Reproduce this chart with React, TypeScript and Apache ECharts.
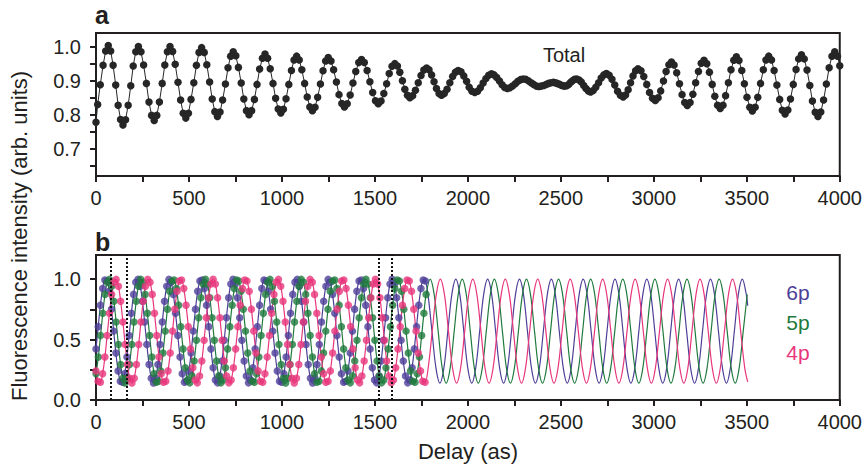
import { useEffect, useRef } from "react";
import * as echarts from "echarts";

// ---------- Panel a: total fluorescence (delay in as, intensity) ----------
const TOTAL_DELAY = [
  0, 9, 23, 38, 52,
  66, 79, 92, 106, 119, 132, 145, 159, 173, 187, 200, 214,
  228, 242, 256, 271, 285, 299, 313, 327, 341, 356, 370, 384,
  398, 412, 426, 441, 455, 469, 483, 497, 511, 526, 540, 554,
  568, 582, 596, 611, 625, 639, 653, 667, 681, 696, 710, 724,
  738, 752, 766, 781, 795, 809, 823, 837, 852, 866, 880, 895,
  909, 923, 937, 952, 966, 980, 994, 1008, 1022, 1037, 1051, 1065,
  1079, 1093, 1107, 1122, 1136, 1150, 1164, 1178, 1192, 1207, 1221, 1235,
  1249, 1264, 1278, 1293, 1307, 1322, 1336, 1351, 1367, 1382, 1397, 1413,
  1428, 1443, 1458, 1473, 1488, 1503, 1518, 1533, 1548, 1563, 1577, 1592,
  1607, 1621, 1634, 1648, 1661, 1675, 1688, 1703, 1718, 1733, 1748, 1763,
  1778, 1791, 1805, 1818, 1831, 1845, 1858, 1873, 1888, 1903, 1918, 1933,
  1948, 1963, 1978, 1993, 2007, 2022, 2037, 2052, 2067, 2082, 2097, 2112,
  2127, 2141, 2155, 2170, 2184, 2198, 2212, 2226, 2240, 2255, 2269, 2283,
  2297, 2311, 2325, 2340, 2354, 2368, 2382, 2395, 2408, 2421, 2434, 2447,
  2460, 2470, 2480, 2490, 2500, 2510, 2520, 2531, 2542, 2553, 2563, 2574,
  2585, 2598, 2610, 2623, 2635, 2648, 2660, 2674, 2688, 2703, 2717, 2731,
  2745, 2760, 2775, 2790, 2805, 2820, 2835, 2848, 2862, 2875, 2888, 2902,
  2915, 2931, 2946, 2962, 2977, 2993, 3008, 3023, 3037, 3052, 3066, 3081,
  3095, 3109, 3123, 3138, 3152, 3166, 3180, 3195, 3210, 3225, 3240, 3255,
  3270, 3285, 3299, 3314, 3328, 3343, 3357, 3372, 3386, 3401, 3415, 3430,
  3444, 3458, 3473, 3487, 3501, 3516, 3530, 3545, 3559, 3574, 3589, 3603,
  3618, 3633, 3647, 3662, 3677, 3691, 3706, 3721, 3735, 3750, 3765, 3779,
  3794, 3809, 3824, 3839, 3853, 3868, 3883, 3898, 3913, 3928, 3943, 3958,
  3973, 3988, 4000,
];
const TOTAL_INTENSITY = [
  0.778, 0.83, 0.888, 0.945, 0.987,
  1.003, 0.987, 0.945, 0.887, 0.828, 0.786, 0.77, 0.785, 0.828, 0.885, 0.943, 0.985,
  1.0, 0.985, 0.946, 0.892, 0.837, 0.798, 0.783, 0.798, 0.837, 0.892, 0.946, 0.985,
  1.0, 0.986, 0.948, 0.895, 0.843, 0.804, 0.79, 0.804, 0.845, 0.894, 0.945, 0.983,
  0.997, 0.983, 0.947, 0.896, 0.846, 0.809, 0.795, 0.808, 0.843, 0.89, 0.938, 0.972,
  0.985, 0.973, 0.939, 0.893, 0.846, 0.812, 0.8, 0.812, 0.845, 0.889, 0.934, 0.966,
  0.978, 0.966, 0.935, 0.892, 0.848, 0.817, 0.805, 0.816, 0.847, 0.889, 0.93, 0.961,
  0.972, 0.961, 0.932, 0.892, 0.852, 0.823, 0.812, 0.822, 0.851, 0.89, 0.929, 0.958,
  0.968, 0.958, 0.932, 0.896, 0.859, 0.833, 0.823, 0.832, 0.858, 0.893, 0.927, 0.953,
  0.962, 0.953, 0.93, 0.897, 0.865, 0.841, 0.832, 0.84, 0.862, 0.891, 0.921, 0.942,
  0.95, 0.943, 0.925, 0.9, 0.875, 0.857, 0.85, 0.856, 0.872, 0.894, 0.915, 0.931,
  0.937, 0.932, 0.917, 0.897, 0.877, 0.862, 0.857, 0.862, 0.875, 0.894, 0.912, 0.925,
  0.93, 0.926, 0.914, 0.898, 0.881, 0.869, 0.865, 0.869, 0.879, 0.893, 0.906, 0.916,
  0.92, 0.917, 0.909, 0.899, 0.888, 0.88, 0.877, 0.879, 0.884, 0.891, 0.898, 0.903,
  0.905, 0.904, 0.9, 0.894, 0.889, 0.884, 0.883, 0.884, 0.886, 0.889, 0.892, 0.894,
  0.895, 0.894, 0.892, 0.89, 0.887, 0.885, 0.884, 0.885, 0.889, 0.895, 0.9, 0.904,
  0.905, 0.902, 0.896, 0.886, 0.877, 0.87, 0.867, 0.871, 0.881, 0.894, 0.908, 0.917,
  0.921, 0.916, 0.904, 0.887, 0.869, 0.857, 0.852, 0.858, 0.873, 0.894, 0.914, 0.929,
  0.935, 0.929, 0.912, 0.889, 0.865, 0.848, 0.842, 0.85, 0.87, 0.899, 0.927, 0.947,
  0.955, 0.946, 0.923, 0.891, 0.859, 0.836, 0.827, 0.836, 0.86, 0.894, 0.927, 0.951,
  0.96, 0.95, 0.925, 0.889, 0.854, 0.828, 0.818, 0.828, 0.856, 0.894, 0.932, 0.96,
  0.97, 0.959, 0.93, 0.891, 0.851, 0.822, 0.811, 0.822, 0.851, 0.892, 0.932, 0.961,
  0.972, 0.961, 0.93, 0.887, 0.845, 0.813, 0.802, 0.814, 0.846, 0.889, 0.933, 0.964,
  0.976, 0.964, 0.931, 0.886, 0.84, 0.807, 0.795, 0.808, 0.843, 0.89, 0.938, 0.972,
  0.985, 0.972, 0.944,
];

// ---------- Panel b: 6p (blue) ----------
const P6_DELAY = [
  0, 11.9, 23.8, 35.7, 47.6, 59.4, 71.3, 83.2, 95.1, 107, 118.9, 130.8, 142.7, 154.6, 166.4, 178.3,
  190.2, 202.1, 214, 225.9, 237.8, 249.7, 261.6, 273.4, 285.3, 297.2, 309.1, 321, 332.9, 344.8, 356.7, 368.6,
  380.4, 392.3, 404.2, 416.1, 428, 439.9, 451.8, 463.7, 475.6, 487.4, 499.3, 511.2, 523.1, 535, 546.9, 558.8,
  570.7, 582.6, 594.5, 606.3, 618.2, 630.1, 642, 653.9, 665.8, 677.7, 689.6, 701.5, 713.3, 725.2, 737.1, 749,
  760.9, 772.8, 784.7, 796.6, 808.5, 820.3, 832.2, 844.1, 856, 867.9, 879.8, 891.7, 903.6, 915.5, 927.3, 939.2,
  951.1, 963, 974.9, 986.8, 998.7, 1010.6, 1022.5, 1034.3, 1046.2, 1058.1, 1070, 1081.9, 1093.8, 1105.7, 1117.6, 1129.5,
  1141.3, 1153.2, 1165.1, 1177, 1188.9, 1200.8, 1212.7, 1224.6, 1236.5, 1248.3, 1260.2, 1272.1, 1284, 1295.9, 1307.8, 1319.7,
  1331.6, 1343.5, 1355.3, 1367.2, 1379.1, 1391, 1402.9, 1414.8, 1426.7, 1438.6, 1450.5, 1462.3, 1474.2, 1486.1, 1498, 1509.9,
  1521.8, 1533.7, 1545.6, 1557.5, 1569.3, 1581.2, 1593.1, 1605, 1616.9, 1628.8, 1640.7, 1652.6, 1664.5, 1676.3, 1688.2, 1700.1,
  1712, 1723.9, 1735.8, 1747.7, 1759.6, 1771.5,
  1785.4, 1806.8, 1828.2, 1849.6, 1871,
  1892.4, 1913.8, 1935.2, 1956.6, 1978, 1999.4, 2020.8, 2042.2,
  2063.6, 2085, 2106.4, 2127.8, 2149.2, 2170.6, 2192, 2213.4,
  2234.8, 2256.2, 2277.6, 2299, 2320.4, 2341.8, 2363.2, 2384.6,
  2406, 2427.4, 2448.8, 2470.2, 2491.6, 2513, 2534.4, 2555.8,
  2577.2, 2598.6, 2620, 2641.4, 2662.8, 2684.2, 2705.6, 2727,
  2748.4, 2769.8, 2791.2, 2812.6, 2834, 2855.4, 2876.8, 2898.2,
  2919.6, 2941, 2962.4, 2983.8, 3005.2, 3026.6, 3048, 3069.4,
  3090.8, 3112.2, 3133.6, 3155, 3176.4, 3197.8, 3219.2, 3240.6,
  3262, 3283.4, 3304.8, 3326.2, 3347.6, 3369, 3390.4, 3411.8,
  3433.2, 3454.6, 3476, 3497.4, 3505,
];
const P6_VALUE = [
  0.423, 0.607, 0.785, 0.922, 0.993, 0.985, 0.899, 0.752, 0.57, 0.388, 0.241, 0.155, 0.147, 0.218, 0.355, 0.533,
  0.717, 0.874, 0.974, 0.998, 0.942, 0.817, 0.645, 0.459, 0.294, 0.18, 0.14, 0.18, 0.294, 0.459, 0.645, 0.817,
  0.942, 0.998, 0.974, 0.874, 0.717, 0.533, 0.355, 0.218, 0.147, 0.155, 0.241, 0.388, 0.57, 0.752, 0.899, 0.985,
  0.993, 0.922, 0.785, 0.607, 0.423, 0.266, 0.166, 0.142, 0.198, 0.323, 0.495, 0.681, 0.846, 0.96, 1.0, 0.96,
  0.846, 0.681, 0.495, 0.323, 0.198, 0.142, 0.166, 0.266,
  0.423, 0.607, 0.785, 0.922, 0.993, 0.985, 0.899, 0.752, 0.57, 0.388, 0.241, 0.155, 0.147, 0.218, 0.355, 0.533,
  0.717, 0.874, 0.974, 0.998, 0.942, 0.817, 0.645, 0.459, 0.294, 0.18, 0.14, 0.18, 0.294, 0.459, 0.645, 0.817,
  0.942, 0.998, 0.974, 0.874, 0.717, 0.533, 0.355, 0.218, 0.147, 0.155, 0.241, 0.388, 0.57, 0.752, 0.899, 0.985,
  0.993, 0.922, 0.785, 0.607, 0.423, 0.266, 0.166, 0.142, 0.198, 0.323, 0.495, 0.681, 0.846, 0.96, 1.0, 0.96,
  0.846, 0.681, 0.495, 0.323, 0.198, 0.142, 0.166, 0.266,
  0.423, 0.607, 0.785, 0.922, 0.993, 0.985,
  0.874, 0.57, 0.266, 0.14, 0.266,
  0.57, 0.874, 1.0, 0.874, 0.57, 0.266, 0.14, 0.266,
  0.57, 0.874, 1.0, 0.874, 0.57, 0.266, 0.14, 0.266,
  0.57, 0.874, 1.0, 0.874, 0.57, 0.266, 0.14, 0.266,
  0.57, 0.874, 1.0, 0.874, 0.57, 0.266, 0.14, 0.266,
  0.57, 0.874, 1.0, 0.874, 0.57, 0.266, 0.14, 0.266,
  0.57, 0.874, 1.0, 0.874, 0.57, 0.266, 0.14, 0.266,
  0.57, 0.874, 1.0, 0.874, 0.57, 0.266, 0.14, 0.266,
  0.57, 0.874, 1.0, 0.874, 0.57, 0.266, 0.14, 0.266,
  0.57, 0.874, 1.0, 0.874, 0.57, 0.266, 0.14, 0.266,
  0.57, 0.874, 1.0, 0.874, 0.78,
];

// ---------- Panel b: 5p (green) ----------
const P5_DELAY = [
  0.4, 12.4, 24.4, 36.4, 48.4, 60.4, 72.4, 84.4, 96.4, 108.4, 120.4, 132.4, 144.4,
  156.3, 168.3, 180.3, 192.3, 204.3, 216.3, 228.3, 240.3, 252.3, 264.3, 276.3, 288.3, 300.3, 312.3, 324.3,
  336.2, 348.2, 360.2, 372.2, 384.2, 396.2, 408.2, 420.2, 432.2, 444.2, 456.2, 468.2, 480.2, 492.2,
  504.1, 516.1, 528.1, 540.1, 552.1, 564.1, 576.1, 588.1, 600.1, 612.1, 624.1, 636.1, 648.1, 660.1,
  672, 684, 696, 708, 720, 732, 744, 756, 768, 780, 792, 804, 816, 828, 840,
  851.9, 863.9, 875.9, 887.9, 899.9, 911.9, 923.9, 935.9, 947.9, 959.9, 971.9, 983.9, 995.9, 1007.9,
  1019.8, 1031.8, 1043.8, 1055.8, 1067.8, 1079.8, 1091.8, 1103.8, 1115.8, 1127.8, 1139.8, 1151.8, 1163.8, 1175.8,
  1187.7, 1199.7, 1211.7, 1223.7, 1235.7, 1247.7, 1259.7, 1271.7, 1283.7, 1295.7, 1307.7, 1319.7, 1331.7, 1343.7,
  1355.6, 1367.6, 1379.6, 1391.6, 1403.6, 1415.6, 1427.6, 1439.6, 1451.6, 1463.6, 1475.6, 1487.6, 1499.6, 1511.6, 1523.6,
  1535.5, 1547.5, 1559.5, 1571.5, 1583.5, 1595.5, 1607.5, 1619.5, 1631.5, 1643.5, 1655.5, 1667.5, 1679.5, 1691.5,
  1703.4, 1715.4, 1727.4, 1739.4, 1751.4, 1763.4, 1775.4,
  1797, 1818.6, 1840.2, 1861.8, 1883.4,
  1904.9, 1926.5, 1948.1, 1969.7, 1991.3, 2012.9, 2034.5, 2056.1,
  2077.6, 2099.2, 2120.8, 2142.4, 2164, 2185.6, 2207.2, 2228.8,
  2250.3, 2271.9, 2293.5, 2315.1, 2336.7, 2358.3, 2379.9, 2401.5,
  2423, 2444.6, 2466.2, 2487.8, 2509.4, 2531, 2552.6, 2574.2,
  2595.7, 2617.3, 2638.9, 2660.5, 2682.1, 2703.7, 2725.3, 2746.9,
  2768.4, 2790, 2811.6, 2833.2, 2854.8, 2876.4, 2898, 2919.6,
  2941.1, 2962.7, 2984.3, 3005.9, 3027.5, 3049.1, 3070.7, 3092.3,
  3113.8, 3135.4, 3157, 3178.6, 3200.2, 3221.8, 3243.4, 3265,
  3286.5, 3308.1, 3329.7, 3351.3, 3372.9, 3394.5, 3416.1, 3437.7,
  3459.2, 3480.8, 3502.4,
];
const P5_VALUE = [
  0.218, 0.355, 0.533, 0.717, 0.874, 0.974, 0.998, 0.942, 0.817, 0.645, 0.459, 0.294, 0.18, 0.14, 0.18, 0.294,
  0.459, 0.645, 0.817, 0.942, 0.998, 0.974, 0.874, 0.717, 0.533, 0.355, 0.218, 0.147, 0.155, 0.241, 0.388, 0.57,
  0.752, 0.899, 0.985, 0.993, 0.922, 0.785, 0.607, 0.423, 0.266, 0.166, 0.142, 0.198, 0.323, 0.495, 0.681, 0.846,
  0.96, 1.0, 0.96, 0.846, 0.681, 0.495, 0.323, 0.198, 0.142, 0.166, 0.266,
  0.423, 0.607, 0.785, 0.922, 0.993, 0.985, 0.899, 0.752, 0.57, 0.388, 0.241, 0.155, 0.147, 0.218, 0.355, 0.533,
  0.717, 0.874, 0.974, 0.998, 0.942, 0.817, 0.645, 0.459, 0.294, 0.18, 0.14, 0.18, 0.294, 0.459, 0.645, 0.817,
  0.942, 0.998, 0.974, 0.874, 0.717, 0.533, 0.355, 0.218, 0.147, 0.155, 0.241, 0.388, 0.57, 0.752, 0.899, 0.985,
  0.993, 0.922, 0.785, 0.607, 0.423, 0.266, 0.166, 0.142, 0.198, 0.323, 0.495, 0.681, 0.846, 0.96, 1.0, 0.96,
  0.846, 0.681, 0.495, 0.323, 0.198, 0.142, 0.166, 0.266,
  0.423, 0.607, 0.785, 0.922, 0.993, 0.985, 0.899, 0.752, 0.57, 0.388, 0.241, 0.155, 0.147, 0.218, 0.355, 0.533,
  0.717, 0.874,
  1.0, 0.874, 0.57, 0.266, 0.14,
  0.266, 0.57, 0.874, 1.0, 0.874, 0.57, 0.266, 0.14,
  0.266, 0.57, 0.874, 1.0, 0.874, 0.57, 0.266, 0.14,
  0.266, 0.57, 0.874, 1.0, 0.874, 0.57, 0.266, 0.14,
  0.266, 0.57, 0.874, 1.0, 0.874, 0.57, 0.266, 0.14,
  0.266, 0.57, 0.874, 1.0, 0.874, 0.57, 0.266, 0.14,
  0.266, 0.57, 0.874, 1.0, 0.874, 0.57, 0.266, 0.14,
  0.266, 0.57, 0.874, 1.0, 0.874, 0.57, 0.266, 0.14,
  0.266, 0.57, 0.874, 1.0, 0.874, 0.57, 0.266, 0.14,
  0.266, 0.57, 0.874, 1.0, 0.874, 0.57, 0.266, 0.14,
  0.266, 0.57, 0.874,
];

// ---------- Panel b: 4p (pink) ----------
const P4_DELAY = [
  0, 11.4, 23.6, 35.7, 47.8, 59.9, 72.1, 84.2,
  96.3, 108.4, 120.6, 132.7, 144.8, 156.9, 169.1, 181.2,
  193.3, 205.4, 217.6, 229.7, 241.8, 253.9, 266.1, 278.2,
  290.3, 302.4, 314.6, 326.7, 338.8, 350.9, 363.1, 375.2,
  387.3, 399.4, 411.6, 423.7, 435.8, 447.9, 460.1, 472.2,
  484.3, 496.4, 508.6, 520.7, 532.8, 544.9, 557.1, 569.2,
  581.3, 593.4, 605.6, 617.7, 629.8, 641.9, 654.1, 666.2,
  678.3, 690.4, 702.6, 714.7, 726.8, 738.9, 751.1, 763.2,
  775.3, 787.4, 799.6, 811.7, 823.8, 835.9, 848.1, 860.2,
  872.3, 884.4, 896.6, 908.7, 920.8, 932.9, 945.1, 957.2,
  969.3, 981.4, 993.6, 1005.7, 1017.8, 1029.9, 1042.1, 1054.2,
  1066.3, 1078.4, 1090.6, 1102.7, 1114.8, 1126.9, 1139.1, 1151.2,
  1163.3, 1175.4, 1187.6, 1199.7, 1211.8, 1223.9, 1236.1, 1248.2,
  1260.3, 1272.4, 1284.6, 1296.7, 1308.8, 1320.9, 1333.1, 1345.2,
  1357.3, 1369.4, 1381.6, 1393.7, 1405.8, 1417.9, 1430.1, 1442.2,
  1454.3, 1466.4, 1478.6, 1490.7, 1502.8, 1514.9, 1527.1, 1539.2,
  1551.3, 1563.4, 1575.6, 1587.7, 1599.8, 1611.9, 1624.1, 1636.2,
  1648.3, 1660.4, 1672.6, 1684.7, 1696.8, 1708.9, 1721.1, 1733.2,
  1745.3, 1757.4, 1769.6,
  1786.5, 1808.4, 1830.2, 1852, 1873.8, 1895.7, 1917.5,
  1939.3, 1961.1, 1983, 2004.8, 2026.6, 2048.4, 2070.3, 2092.1,
  2113.9, 2135.7, 2157.6, 2179.4, 2201.2, 2223, 2244.9, 2266.7,
  2288.5, 2310.3, 2332.2, 2354, 2375.8, 2397.6, 2419.5, 2441.3,
  2463.1, 2484.9, 2506.8, 2528.6, 2550.4, 2572.2, 2594.1, 2615.9,
  2637.7, 2659.5, 2681.4, 2703.2, 2725, 2746.8, 2768.7, 2790.5,
  2812.3, 2834.1, 2856, 2877.8, 2899.6, 2921.4, 2943.3, 2965.1,
  2986.9, 3008.7, 3030.6, 3052.4, 3074.2, 3096, 3117.9, 3139.7,
  3161.5, 3183.3, 3205.2, 3227, 3248.8, 3270.6, 3292.5, 3314.3,
  3336.1, 3357.9, 3379.8, 3401.6, 3423.4, 3445.2, 3467.1, 3488.9,
  3505,
];
const P4_VALUE = [
  0.241, 0.155, 0.147, 0.218, 0.355, 0.533,
  0.717, 0.874, 0.974, 0.998, 0.942, 0.817, 0.645, 0.459, 0.294, 0.18, 0.14, 0.18, 0.294, 0.459, 0.645, 0.817,
  0.942, 0.998, 0.974, 0.874, 0.717, 0.533, 0.355, 0.218, 0.147, 0.155, 0.241, 0.388, 0.57, 0.752, 0.899, 0.985,
  0.993, 0.922, 0.785, 0.607, 0.423, 0.266, 0.166, 0.142, 0.198, 0.323, 0.495, 0.681, 0.846, 0.96, 1.0, 0.96,
  0.846, 0.681, 0.495, 0.323, 0.198, 0.142, 0.166, 0.266,
  0.423, 0.607, 0.785, 0.922, 0.993, 0.985, 0.899, 0.752, 0.57, 0.388, 0.241, 0.155, 0.147, 0.218, 0.355, 0.533,
  0.717, 0.874, 0.974, 0.998, 0.942, 0.817, 0.645, 0.459, 0.294, 0.18, 0.14, 0.18, 0.294, 0.459, 0.645, 0.817,
  0.942, 0.998, 0.974, 0.874, 0.717, 0.533, 0.355, 0.218, 0.147, 0.155, 0.241, 0.388, 0.57, 0.752, 0.899, 0.985,
  0.993, 0.922, 0.785, 0.607, 0.423, 0.266, 0.166, 0.142, 0.198, 0.323, 0.495, 0.681, 0.846, 0.96, 1.0, 0.96,
  0.846, 0.681, 0.495, 0.323, 0.198, 0.142, 0.166, 0.266,
  0.423, 0.607, 0.785, 0.922, 0.993, 0.985, 0.899, 0.752, 0.57, 0.388, 0.241, 0.155, 0.147,
  0.266, 0.57, 0.874, 1.0, 0.874, 0.57, 0.266,
  0.14, 0.266, 0.57, 0.874, 1.0, 0.874, 0.57, 0.266,
  0.14, 0.266, 0.57, 0.874, 1.0, 0.874, 0.57, 0.266,
  0.14, 0.266, 0.57, 0.874, 1.0, 0.874, 0.57, 0.266,
  0.14, 0.266, 0.57, 0.874, 1.0, 0.874, 0.57, 0.266,
  0.14, 0.266, 0.57, 0.874, 1.0, 0.874, 0.57, 0.266,
  0.14, 0.266, 0.57, 0.874, 1.0, 0.874, 0.57, 0.266,
  0.14, 0.266, 0.57, 0.874, 1.0, 0.874, 0.57, 0.266,
  0.14, 0.266, 0.57, 0.874, 1.0, 0.874, 0.57, 0.266,
  0.14, 0.266, 0.57, 0.874, 1.0, 0.874, 0.57, 0.266,
  0.15,
];

const DOTS_END_DELAY = 1776; // computed points (dots) shown up to here
const MARKER_DELAYS = [79, 163, 1518, 1593];
const TOP_Y_LABELS = [0.7, 0.8, 0.9, 1.0];
const TOP_Y_TICKS = [0.65, 0.7, 0.75, 0.8, 0.85, 0.9, 0.95, 1.0];
const BOTTOM_Y_LABELS = [0, 0.5, 1.0];
const BOTTOM_Y_TICKS = [0, 0.25, 0.5, 0.75, 1.0];
const STATES = ["6p", "5p", "4p"];

const FONT = "'Liberation Sans', Arial, Helvetica, sans-serif";
const INK = "#231f20";
const BLUE = "#4d3f98";
const GREEN = "#1f7a3d";
const PINK = "#e8367c";

const pairs = (xs: number[], ys: number[]) => xs.map((x, i) => [x, ys[i]]);
const dotsOnly = (xs: number[], ys: number[]) =>
  pairs(xs, ys).filter((p) => p[0] <= DOTS_END_DELAY);

function xAxisFor(gridIndex: number) {
  return {
    type: "value",
    gridIndex,
    min: 0,
    max: 4000,
    interval: 500,
    axisLine: { show: true, onZero: false, lineStyle: { color: INK, width: 2 } },
    axisTick: { show: true, inside: false, length: 6, lineStyle: { color: INK, width: 2 } },
    minorTick: { show: true, splitNumber: 2, length: 6, lineStyle: { color: INK, width: 2 } },
    splitLine: { show: false },
    minorSplitLine: { show: false },
    axisLabel: {
      fontSize: 20,
      fontFamily: FONT,
      color: INK,
      margin: 12,
      showMaxLabel: true,
      formatter: (v: number) => String(v),
    },
  };
}

function yAxisFor(gridIndex: number, min: number, max: number, labels: number[], ticks: number[]) {
  return {
    type: "value",
    gridIndex,
    min,
    max,
    axisLine: { show: true, onZero: false, lineStyle: { color: INK, width: 2 } },
    axisTick: { show: true, inside: false, length: 6, customValues: ticks, lineStyle: { color: INK, width: 2 } },
    splitLine: { show: false },
    axisLabel: {
      fontSize: 20,
      fontFamily: FONT,
      color: INK,
      margin: 15,
      customValues: labels,
      formatter: (v: number) => v.toFixed(1),
    },
  };
}

const centered = { align: "center", verticalAlign: "middle", textAlign: "center", textVerticalAlign: "middle" };

function buildOption() {
  const lineSeries = (name: string, xs: number[], ys: number[], color: string) => ({
    name,
    type: "line",
    xAxisIndex: 1,
    yAxisIndex: 1,
    data: pairs(xs, ys),
    showSymbol: false,
    smooth: 0.35,
    lineStyle: { color, width: 1.2 },
    z: 2,
  });
  const dotSeries = (name: string, xs: number[], ys: number[], color: string) => ({
    name: name + " points",
    type: "scatter",
    xAxisIndex: 1,
    yAxisIndex: 1,
    data: dotsOnly(xs, ys),
    symbol: "circle",
    symbolSize: 7.5,
    itemStyle: { color },
    z: 3,
  });

  const pinkDots: any = dotSeries(STATES[2], P4_DELAY, P4_VALUE, PINK);
  pinkDots.markLine = {
    silent: true,
    symbol: ["none", "none"],
    label: { show: false },
    lineStyle: { color: "#111", width: 2, type: [2, 2] },
    data: MARKER_DELAYS.map((d) => ({ xAxis: d })),
  };

  return {
    animation: false,
    backgroundColor: "#ffffff",
    grid: [
      { left: 96, top: 33, width: 744, height: 143, show: true, borderColor: INK, borderWidth: 2, backgroundColor: "transparent" },
      { left: 96, top: 255, width: 744, height: 145, show: true, borderColor: INK, borderWidth: 2, backgroundColor: "transparent" },
    ],
    xAxis: [xAxisFor(0), xAxisFor(1)],
    yAxis: [
      yAxisFor(0, 0.62, 1.04, TOP_Y_LABELS, TOP_Y_TICKS),
      yAxisFor(1, 0, 1.2, BOTTOM_Y_LABELS, BOTTOM_Y_TICKS),
    ],
    series: [
      {
        name: "Total",
        type: "line",
        xAxisIndex: 0,
        yAxisIndex: 0,
        data: pairs(TOTAL_DELAY, TOTAL_INTENSITY),
        symbol: "circle",
        symbolSize: 7.5,
        showSymbol: true,
        itemStyle: { color: "#262626" },
        lineStyle: { color: "#262626", width: 1 },
      },
      lineSeries(STATES[0], P6_DELAY, P6_VALUE, BLUE),
      lineSeries(STATES[1], P5_DELAY, P5_VALUE, GREEN),
      lineSeries(STATES[2], P4_DELAY, P4_VALUE, PINK),
      dotSeries(STATES[0], P6_DELAY, P6_VALUE, BLUE),
      dotSeries(STATES[1], P5_DELAY, P5_VALUE, GREEN),
      pinkDots,
    ],
    graphic: [
      { type: "text", x: 95, y: 15, style: { text: "a", fontSize: 25, fontWeight: "bold", fontFamily: FONT, fill: INK, align: "left", verticalAlign: "middle", textAlign: "left", textVerticalAlign: "middle" } },
      { type: "text", x: 95, y: 242, style: { text: "b", fontSize: 25, fontWeight: "bold", fontFamily: FONT, fill: INK, align: "left", verticalAlign: "middle", textAlign: "left", textVerticalAlign: "middle" } },
      { type: "text", x: 564, y: 55, style: { text: "Total", fontSize: 20, fontFamily: FONT, fill: INK, ...centered } },
      { type: "text", x: 798, y: 292, style: { text: STATES[0], fontSize: 21, fontFamily: FONT, fill: BLUE, ...centered } },
      { type: "text", x: 798, y: 322, style: { text: STATES[1], fontSize: 21, fontFamily: FONT, fill: GREEN, ...centered } },
      { type: "text", x: 798, y: 352, style: { text: STATES[2], fontSize: 21, fontFamily: FONT, fill: PINK, ...centered } },
      { type: "text", x: 468, y: 451, style: { text: "Delay (as)", fontSize: 22, fontFamily: FONT, fill: INK, ...centered } },
      { type: "text", x: 19, y: 236, rotation: Math.PI / 2, style: { text: "Fluorescence intensity (arb. units)", fontSize: 22, fontFamily: FONT, fill: INK, ...centered } },
    ],
  };
}

export default function App() {
  const ref = useRef<HTMLDivElement>(null);
  useEffect(() => {
    if (!ref.current) return;
    const chart = echarts.init(ref.current, null, { renderer: "svg" });
    chart.setOption(buildOption() as any);
    return () => chart.dispose();
  }, []);
  return (
    <div
      ref={ref}
      style={{ position: "fixed", left: 0, top: 0, width: 865, height: 464, background: "#fff" }}
    />
  );
}
